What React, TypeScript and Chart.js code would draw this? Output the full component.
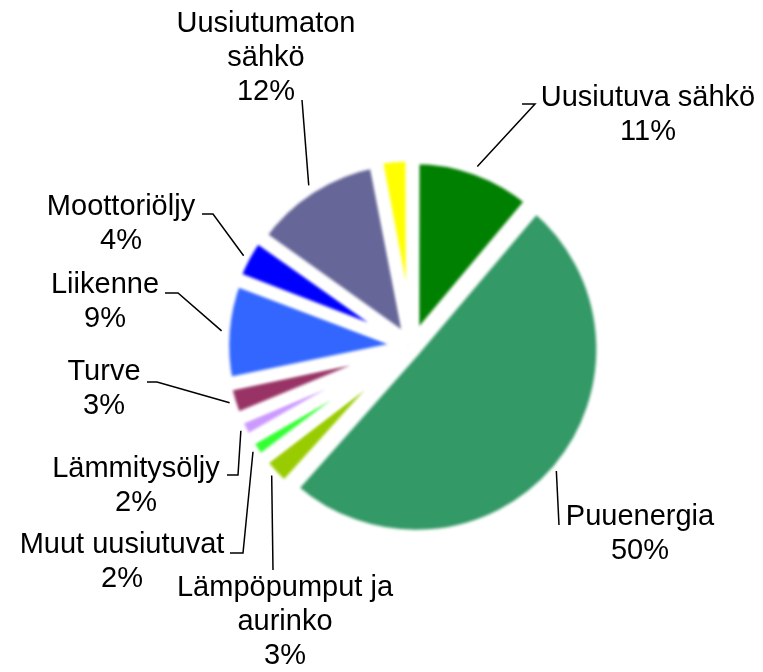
import React, { useEffect, useRef } from 'react';
import { Chart, registerables } from 'chart.js';

Chart.register(...registerables);

// ---- data ----
const categories = [
  'Uusiutuva sähkö',
  'Puuenergia',
  'Lämpöpumput ja aurinko',
  'Muut uusiutuvat',
  'Lämmitysöljy',
  'Turve',
  'Liikenne',
  'Moottoriöljy',
  'Uusiutumaton sähkö',
  'Muu',
];
const values = [11, 50, 3, 2, 2, 3, 9, 4, 12, 3];
const sliceColors = [
  '#008000',
  '#339966',
  '#99cc00',
  '#33ff33',
  '#cc99ff',
  '#993366',
  '#3366ff',
  '#0000ff',
  '#666699',
  '#ffff00',
];
// how each category name is broken into display lines ([] = no label)
const displayLines: string[][] = [
  ['Uusiutuva sähkö'],
  ['Puuenergia'],
  ['Lämpöpumput ja', 'aurinko'],
  ['Muut uusiutuvat'],
  ['Lämmitysöljy'],
  ['Turve'],
  ['Liikenne'],
  ['Moottoriöljy'],
  ['Uusiutumaton', 'sähkö'],
  [],
];

// ---- label layout (text centre x, first baseline, leader line points from text side) ----
const labelLayout: { x: number; y: number; path: number[][] }[] = [
  { x: 648, y: 106, path: [[522, 104], [535, 104]] },
  { x: 640, y: 525, path: [[559, 525]] },
  { x: 285, y: 596, path: [[273, 570]] },
  { x: 122, y: 553, path: [[230, 553], [243, 553]] },
  { x: 136, y: 477, path: [[227, 475], [238, 475]] },
  { x: 104, y: 380, path: [[147, 382], [157, 382]] },
  { x: 105, y: 293, path: [[165, 293], [178, 293]] },
  { x: 121, y: 215, path: [[202, 214], [213, 214]] },
  { x: 266, y: 32, path: [[302, 100]] },
  { x: 0, y: 0, path: [] },
];

const FONT = '29px "Liberation Sans", Arial, sans-serif';
const LINE_H = 34;

const blurPlugin = {
  id: 'blurArcs',
  beforeDatasetsDraw(chart: any) {
    chart.ctx.save();
    chart.ctx.filter = 'blur(1.4px)';
  },
  afterDatasetsDraw(chart: any) {
    chart.ctx.restore();
  },
};

const labelPlugin = {
  id: 'pieLabels',
  afterDraw(chart: any) {
    const ctx = chart.ctx;
    const meta = chart.getDatasetMeta(0);
    ctx.save();
    ctx.font = FONT;
    ctx.fillStyle = '#000';
    ctx.textAlign = 'center';
    ctx.textBaseline = 'alphabetic';
    ctx.strokeStyle = '#000';
    ctx.lineWidth = 1.5;
    meta.data.forEach((arc: any, i: number) => {
      const lines = displayLines[i];
      if (!lines || lines.length === 0) return;
      const lay = labelLayout[i];
      const all = [...lines, values[i] + '%'];
      all.forEach((t, k) => ctx.fillText(t, lay.x, lay.y + k * LINE_H));
      const mid = (arc.startAngle + arc.endAngle) / 2;
      const r = arc.outerRadius + 10;
      const ax = arc.x + Math.cos(mid) * r;
      const ay = arc.y + Math.sin(mid) * r;
      ctx.beginPath();
      lay.path.forEach((p, k) => (k === 0 ? ctx.moveTo(p[0], p[1]) : ctx.lineTo(p[0], p[1])));
      ctx.lineTo(ax, ay);
      ctx.stroke();
    });
    ctx.restore();
  },
};

export default function App() {
  const ref = useRef<HTMLCanvasElement | null>(null);
  useEffect(() => {
    document.body.style.margin = '0';
    const canvas = ref.current;
    if (!canvas) return;
    const chart = new Chart(canvas, {
      type: 'pie',
      data: {
        labels: categories,
        datasets: [
          {
            data: values,
            backgroundColor: sliceColors,
            borderColor: '#ffffff',
            borderWidth: 11,
            offset: 20,
          },
        ],
      },
      options: {
        responsive: false,
        animation: false,
        devicePixelRatio: 1,
        events: [],
        radius: 181,
        layout: { padding: { left: 61, top: 20, right: 0, bottom: 0 } },
        plugins: {
          legend: { display: false },
          tooltip: { enabled: false },
        },
      } as any,
      plugins: [blurPlugin, labelPlugin],
    });
    return () => chart.destroy();
  }, []);
  return (
    <div style={{ width: 763, height: 672, background: '#fff' }}>
      <canvas ref={ref} width={763} height={672} />
    </div>
  );
}
